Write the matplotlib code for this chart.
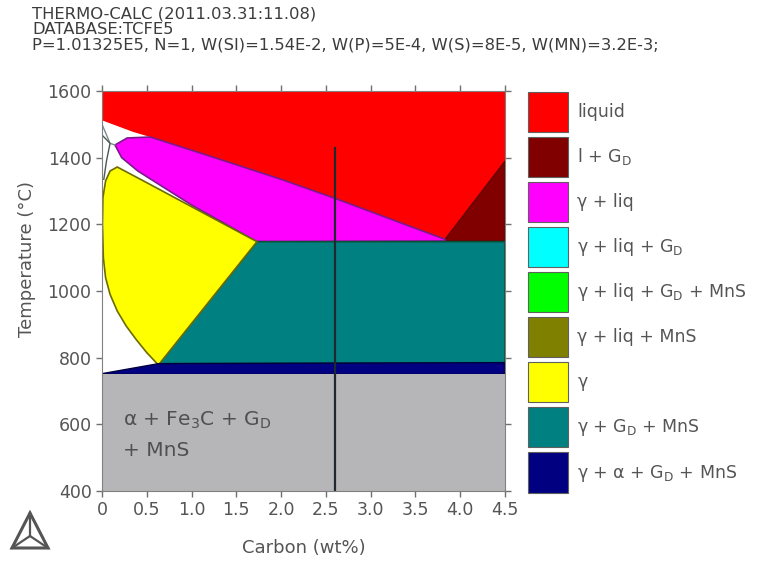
import matplotlib
matplotlib.use("Agg")
import matplotlib.pyplot as plt
from matplotlib.patches import Patch, Polygon
from matplotlib.lines import Line2D

plt.rcParams['font.family'] = ['DejaVu Sans']
plt.rcParams['mathtext.fontset'] = 'dejavusans'

# En-tête du calcul
header_lines = [
    "THERMO-CALC (2011.03.31:11.08)",
    "DATABASE:TCFE5",
    "P=1.01325E5, N=1, W(SI)=1.54E-2, W(P)=5E-4, W(S)=8E-5, W(MN)=3.2E-3;",
]

# Axes
carbon_ticks = [0, 0.5, 1.0, 1.5, 2.0, 2.5, 3.0, 3.5, 4.0, 4.5]
carbon_labels = ["0", "0.5", "1.0", "1.5", "2.0", "2.5", "3.0", "3.5", "4.0", "4.5"]
temp_ticks = [400, 600, 800, 1000, 1200, 1400, 1600]

# Légende des domaines de phases
phase_names = [
    "liquid",
    r"l + G$_\mathrm{D}$",
    "γ + liq",
    r"γ + liq + G$_\mathrm{D}$",
    r"γ + liq + G$_\mathrm{D}$ + MnS",
    "γ + liq + MnS",
    "γ",
    r"γ + G$_\mathrm{D}$ + MnS",
    r"γ + α + G$_\mathrm{D}$ + MnS",
]
phase_colors = ["#ff0000", "#800000", "#ff00ff", "#00ffff", "#00ff00",
                "#808000", "#ffff00", "#008080", "#000080"]

# Limites des domaines (C en wt%, T en °C)
liquidus_c = [0.0, 0.2, 0.35, 0.54, 1.2, 2.0, 2.6, 3.2, 3.83]
liquidus_t = [1512, 1492, 1477, 1462, 1405, 1335, 1278, 1218, 1155]
graphite_liq_c = [3.83, 4.5]
graphite_liq_t = [1155, 1390]
t_eutectic = 1148

gliq_top_c = [0.145, 0.28, 0.54]
gliq_top_t = [1438, 1459, 1462]
gliq_low_c = [0.145, 0.22, 0.4, 1.0, 1.73]
gliq_low_t = [1438, 1400, 1360, 1258, 1148]

gamma_top_c = [0.17, 0.5, 1.0, 1.73]
gamma_top_t = [1372, 1325, 1253, 1148]
gamma_left_c = [0.63, 0.5, 0.38, 0.27, 0.17, 0.09, 0.04, 0.015, 0.005, 0.01, 0.04, 0.09, 0.17]
gamma_left_t = [778, 815, 855, 895, 940, 990, 1040, 1100, 1200, 1280, 1330, 1360, 1372]

eutectoid_c = [0.0, 0.63, 4.5]
eutectoid_t = [752, 782, 785]
t_a1 = 750

delta_a_c = [0.0, 0.09, 0.145]
delta_a_t = [1500, 1443, 1438]
delta_b_c = [0.0, 0.09, 0.05, 0.02]
delta_b_t = [1468, 1443, 1390, 1335]

section_c = 2.6
section_t = [400, 1430]

fig = plt.figure(figsize=(7.78, 5.63), dpi=100)
ax = fig.add_axes([102 / 778, 72 / 563, 403 / 778, 400 / 563])
ax.set_xlim(0, 4.5)
ax.set_ylim(400, 1600)

# liquide
red_c = [0, 4.5, 4.5] + liquidus_c[::-1]
red_t = [1600, 1600, graphite_liq_t[1]] + liquidus_t[::-1]
ax.fill(red_c, red_t, color=phase_colors[0], lw=0)

# l + G_D
ax.fill(graphite_liq_c + [4.5, 3.83], graphite_liq_t + [1150, 1150],
        color=phase_colors[1], ec="#5a0000", lw=0.8)

# gamma + liq
mag_c = gliq_top_c + liquidus_c[4:] + [3.83] + gliq_low_c[::-1]
mag_t = gliq_top_t + liquidus_t[4:] + [t_eutectic + 2] + gliq_low_t[::-1]
ax.fill(mag_c, mag_t, color=phase_colors[2], ec="#7a1a8a", lw=1.2)

# gamma + G_D + MnS
teal_c = [eutectoid_c[1], gamma_top_c[-1], 4.5, 4.5]
teal_t = [eutectoid_t[1], t_eutectic, t_eutectic, eutectoid_t[2]]
ax.fill(teal_c, teal_t, color=phase_colors[7], ec="#0d4f3a", lw=1.2)

# gamma
yel_c = gamma_left_c + gamma_top_c[1:]
yel_t = gamma_left_t + gamma_top_t[1:]
ax.fill(yel_c, yel_t, color=phase_colors[6], ec="#6b6b00", lw=1.2)

# gamma + alpha + G_D + MnS
navy_c = eutectoid_c + [4.5, 0]
navy_t = eutectoid_t + [t_a1, t_a1]
ax.fill(navy_c, navy_t, color=phase_colors[8], ec="#000040", lw=1.0)

# alpha + Fe3C + G_D + MnS
ax.fill([0, 4.5, 4.5, 0], [400, 400, t_a1, t_a1], color="#b6b5b7", lw=0)

# boucle delta
ax.plot(delta_a_c, delta_a_t, color="#7a8a90", lw=1.0)
ax.plot(delta_b_c, delta_b_t, color="#4a5a50", lw=1.0)
ax.plot([0.005, 0.005], [1100, 1330], color="#333333", lw=1.2)

# section verticale
ax.plot([section_c, section_c], section_t, color="#1e2a30", lw=1.6)

ax.text(0.24, 612, r"α + Fe$_3$C + G$_\mathrm{D}$", fontsize=14.5, color="#505050", va="center")
ax.text(0.24, 522, "+ MnS", fontsize=14.5, color="#505050", va="center")

ax.set_xticks(carbon_ticks)
ax.set_xticklabels(carbon_labels)
ax.set_yticks(temp_ticks)
ax.tick_params(direction="out", length=4, width=1, color="#707070",
               labelcolor="#555555", labelsize=12.5, top=True, right=True)
for sp in ax.spines.values():
    sp.set_color("#808080")
ax.set_xlabel("Carbon (wt%)", fontsize=13, color="#555555", labelpad=14)
ax.set_ylabel("Temperature (°C)", fontsize=13, color="#555555")
ax.yaxis.set_label_coords(-0.165, 0.58)

handles = [Patch(facecolor=c, edgecolor="#606060", lw=0.8) for c in phase_colors]
fig.legend(handles, phase_names, loc="upper left",
           bbox_to_anchor=(528 / 778, 1 - 92 / 563), frameon=False,
           fontsize=12.5, labelcolor="#555555", borderpad=0, borderaxespad=0,
           handlelength=2.3, handleheight=3.17, labelspacing=0.29,
           handletextpad=0.55)

for i, line in enumerate(header_lines):
    fig.text(32 / 778, 1 - (14 + 15.5 * i) / 563, line, fontsize=11.8,
             color="#3c3c3c", va="center")

# logo
tri = Polygon([(12 / 778, 1 - 548 / 563), (48 / 778, 1 - 548 / 563), (30 / 778, 1 - 513 / 563)],
              closed=True, fill=False, ec="#555555", lw=2.2, transform=fig.transFigure)
fig.add_artist(tri)
cx, cy = 30 / 778, 1 - 536 / 563
for vx, vy in [(12, 548), (48, 548), (30, 513)]:
    fig.add_artist(Line2D([cx, vx / 778], [cy, 1 - vy / 563], color="#555555",
                          lw=1.6, transform=fig.transFigure))

fig.savefig("out.png", dpi=100)
